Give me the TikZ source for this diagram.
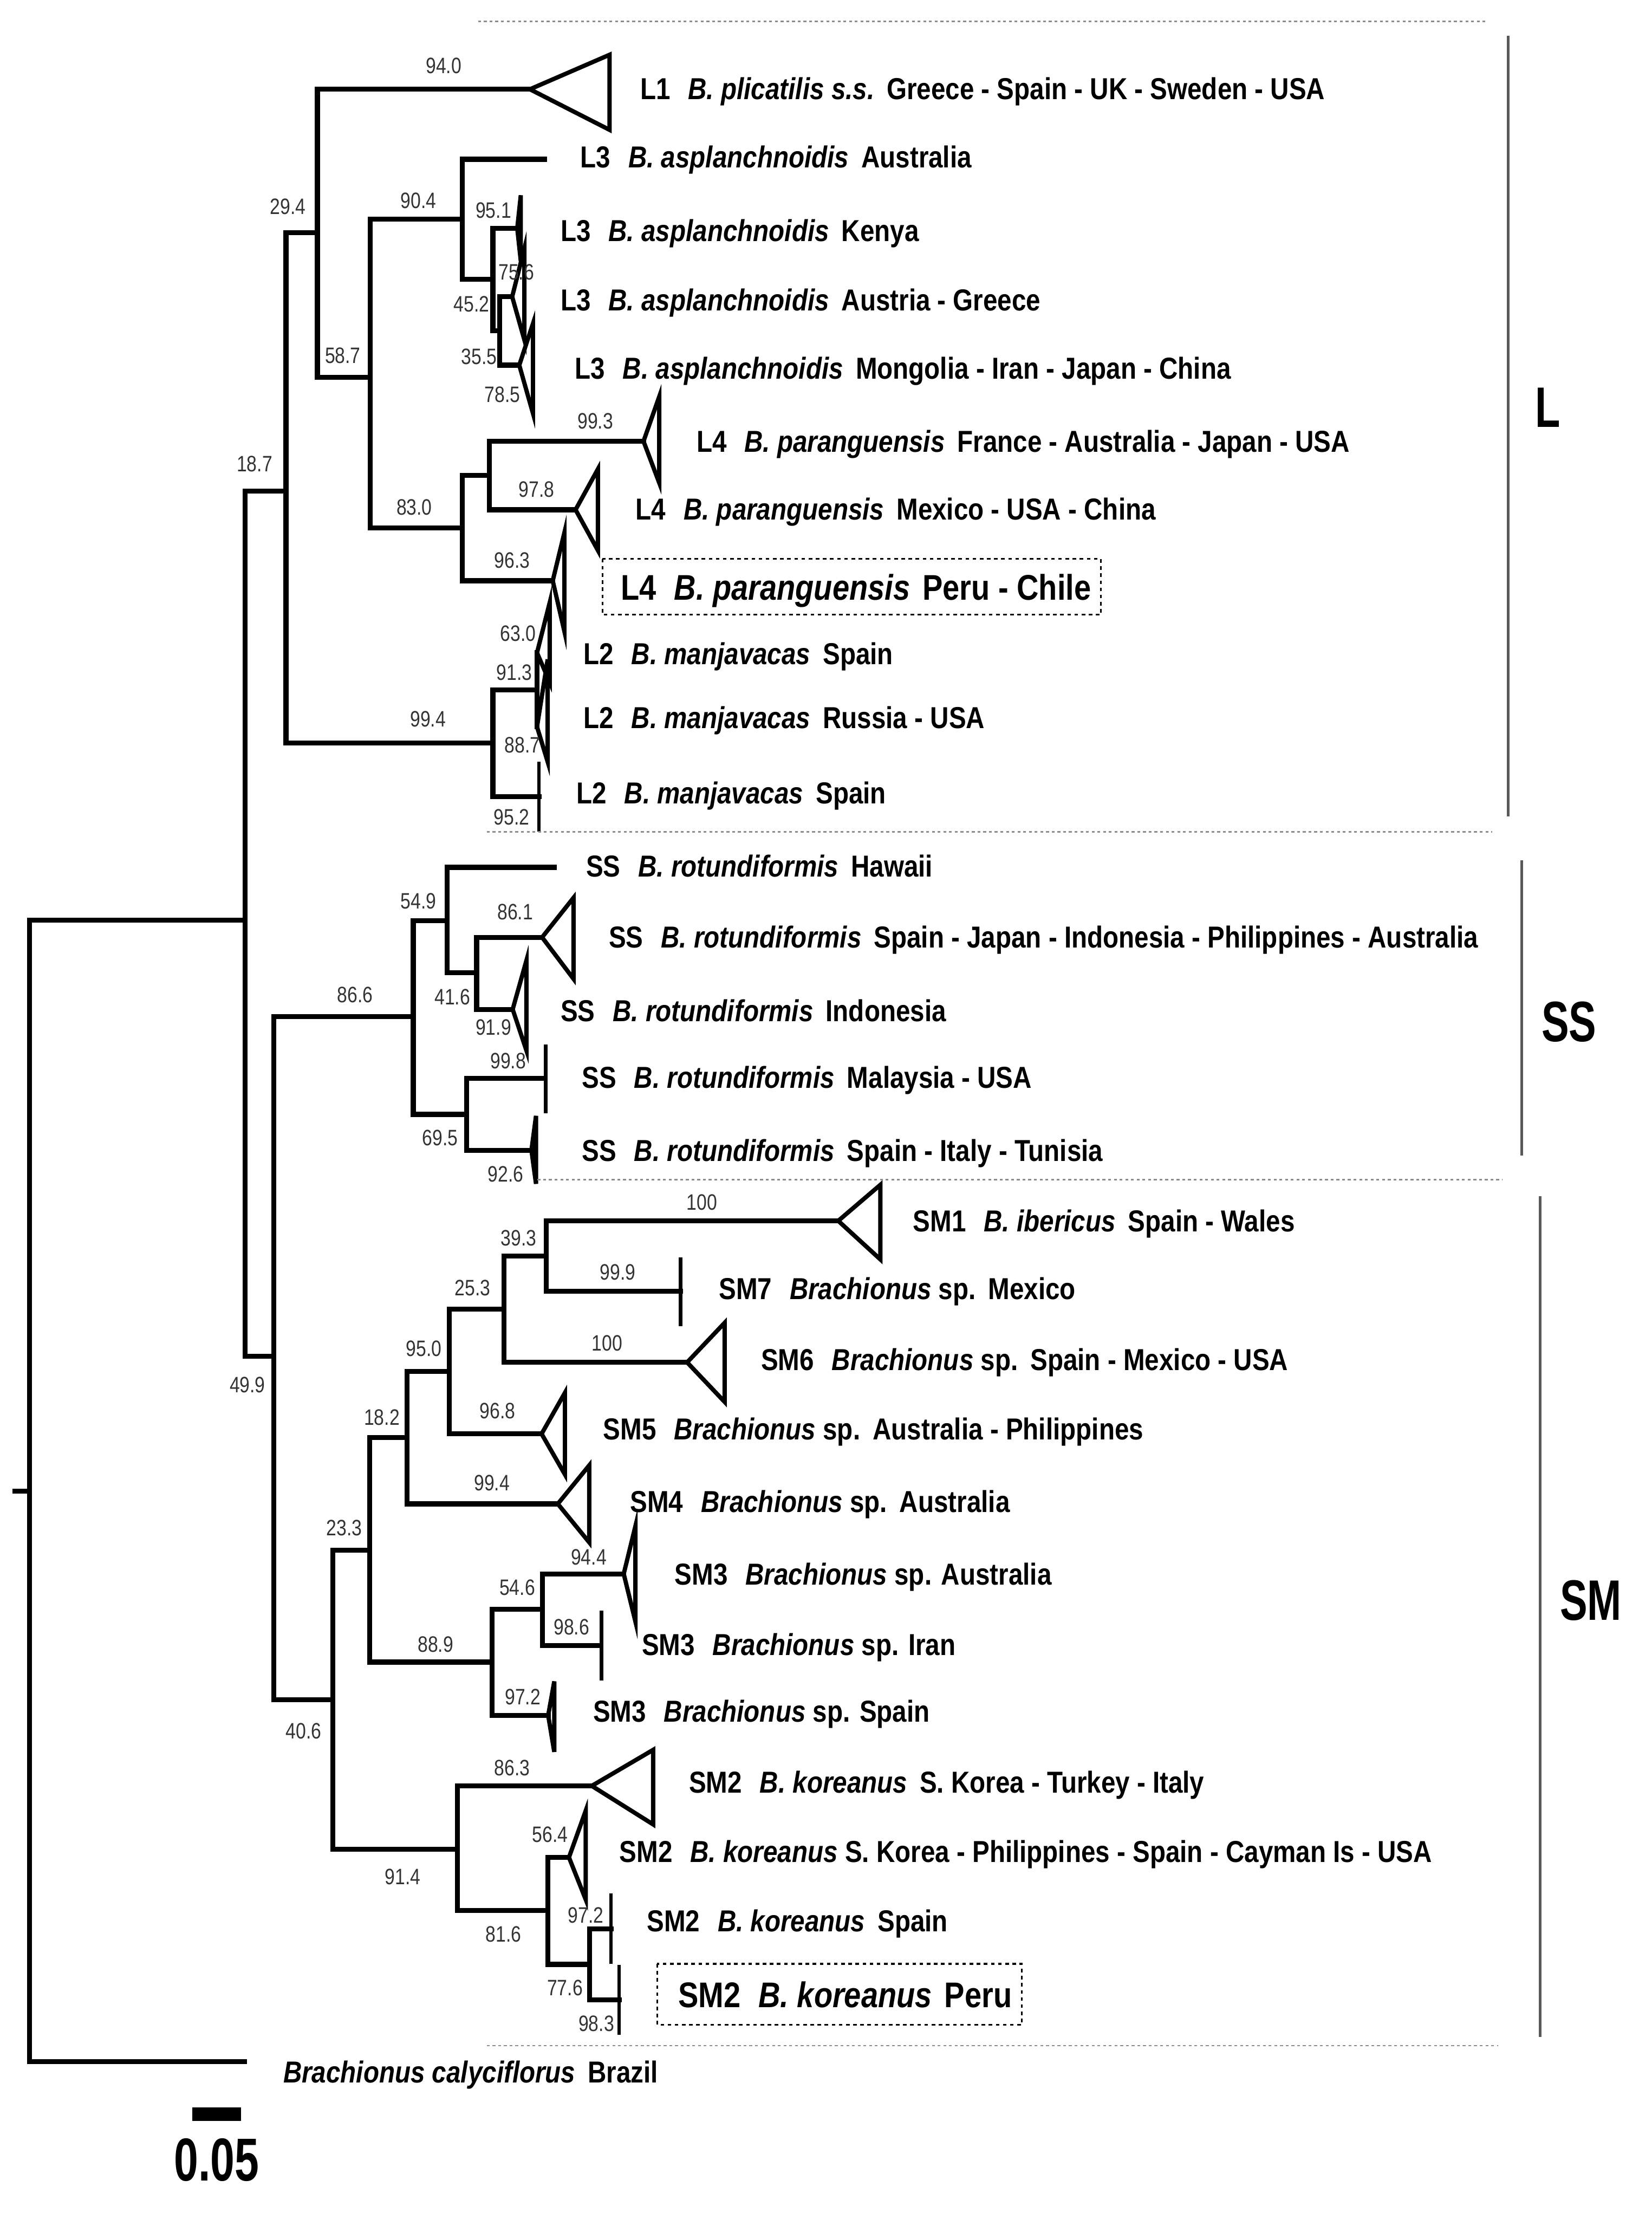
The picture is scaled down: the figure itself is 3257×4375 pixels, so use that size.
\documentclass[tikz,border=0pt]{standalone}
\usepackage{fontspec}
\setmainfont{Liberation Sans}[FakeStretch=0.85]
\newfontfamily\bsfont{Liberation Sans}[FakeStretch=0.82]
\newfontfamily\grpfont{Liberation Sans}[FakeStretch=0.72]
\newcommand\tga{\hspace{10pt}}
\newcommand\tgb{\hspace{7pt}}
\begin{document}
\begin{tikzpicture}[x=0.01cm,y=-0.01cm,
  br/.style={line width=2.8pt, line cap=rect, line join=miter},
  wedge/.style={line width=2.4pt, line join=miter},
  tipbar/.style={line width=1.9pt},
  bs/.style={font=\bsfont\fontsize{12.5}{13}\selectfont, text=black!80, inner sep=0pt},
  tax/.style={font=\fontsize{17}{18}\selectfont\bfseries, anchor=base west, inner sep=0pt},
  taxbig/.style={font=\fontsize{20}{22}\selectfont\bfseries, anchor=base west, inner sep=0pt},
  grp/.style={font=\grpfont\fontsize{32}{34}\selectfont\bfseries, inner sep=0pt},
  sepline/.style={black!45, line width=0.8pt, dash pattern=on 1.6pt off 1.6pt},
  grpbar/.style={black!65, line width=1.4pt},
  dotbox/.style={line width=1pt, dash pattern=on 2pt off 2pt}]
\useasboundingbox (0,0) rectangle (3257,4375);
% ---------------- coordinates ----------------
\coordinate (R) at (58,2940);
\coordinate (Rs) at (30,2940);
\coordinate (IN) at (483,1814);
\coordinate (OG) at (482,4065);
\coordinate (Lc) at (564,968);
\coordinate (SSM) at (540,2674);
\coordinate (A29) at (626,459);
\coordinate (M) at (972,1465);
\coordinate (tL1) at (1045,176);
\coordinate (A58) at (730,744);
\coordinate (A90) at (912,432);
\coordinate (A83) at (912,1041);
\coordinate (tAu) at (1074,314);
\coordinate (S1) at (972,551);
\coordinate (tKe) at (1020,450);
\coordinate (A45) at (985,652);
\coordinate (tAG) at (1010,585);
\coordinate (tMo) at (1024,720);
\coordinate (S2) at (965,937);
\coordinate (tP96) at (1090,1145);
\coordinate (tFr) at (1269,870);
\coordinate (tMx) at (1135,1005);
\coordinate (N91) at (1059,1360);
\coordinate (tSp2) at (1063,1571);
\coordinate (tSp1) at (1059,1287);
\coordinate (tRu) at (1059,1433);
\coordinate (Q86) at (815,2004);
\coordinate (Q54) at (882,1815);
\coordinate (Q69) at (920,2197);
\coordinate (tHa) at (1093,1710);
\coordinate (Q41) at (940,1918);
\coordinate (tSJ) at (1069,1848);
\coordinate (tIn) at (1011,1990);
\coordinate (tMa) at (1074,2126);
\coordinate (tSI) at (1048,2268);
\coordinate (Q40) at (656,3351);
\coordinate (Q23) at (729,3056);
\coordinate (Q91) at (902,3646);
\coordinate (Q18) at (803,2834);
\coordinate (Q88) at (970,3277);
\coordinate (Q95) at (886,2704);
\coordinate (tS4) at (1100,2965);
\coordinate (Q25) at (994,2581);
\coordinate (tS5) at (1068,2827);
\coordinate (Q39) at (1077,2476);
\coordinate (tS6) at (1355,2686);
\coordinate (tS1) at (1653,2407);
\coordinate (tS7) at (1342,2546);
\coordinate (Q54b) at (1070,3173);
\coordinate (tS3s) at (1081,3382);
\coordinate (tS3a) at (1230,3103);
\coordinate (tS3i) at (1184,3244);
\coordinate (tS2a) at (1167,3521);
\coordinate (Q81) at (1080,3767);
\coordinate (tS2b) at (1122,3662);
\coordinate (Q77) at (1163,3873);
\coordinate (tS2s) at (1205,3803);
\coordinate (tS2p) at (1221,3943);
% ---------------- branches ----------------
\draw[br] (Rs) -- (R);
\draw[br] (IN) -| (R) |- (OG);
\draw[br] (Lc) -| (IN) |- (SSM);
\draw[br] (A29) -| (Lc) |- (M);
\draw[br] (tL1) -| (A29) |- (A58);
\draw[br] (A90) -| (A58) |- (A83);
\draw[br] (tAu) -| (A90) |- (S1);
\draw[br] (tKe) -| (S1) |- (A45);
\draw[br] (tAG) -| (A45) |- (tMo);
\draw[br] (S2) -| (A83) |- (tP96);
\draw[br] (tFr) -| (S2) |- (tMx);
\draw[br] (N91) -| (M) |- (tSp2);
\draw[br] (tSp1) -| (N91) |- (tRu);
\draw[br] (Q86) -| (SSM) |- (Q40);
\draw[br] (Q54) -| (Q86) |- (Q69);
\draw[br] (tHa) -| (Q54) |- (Q41);
\draw[br] (tSJ) -| (Q41) |- (tIn);
\draw[br] (tMa) -| (Q69) |- (tSI);
\draw[br] (Q23) -| (Q40) |- (Q91);
\draw[br] (Q18) -| (Q23) |- (Q88);
\draw[br] (Q95) -| (Q18) |- (tS4);
\draw[br] (Q25) -| (Q95) |- (tS5);
\draw[br] (Q39) -| (Q25) |- (tS6);
\draw[br] (tS1) -| (Q39) |- (tS7);
\draw[br] (Q54b) -| (Q88) |- (tS3s);
\draw[br] (tS3a) -| (Q54b) |- (tS3i);
\draw[br] (tS2a) -| (Q91) |- (Q81);
\draw[br] (tS2b) -| (Q81) |- (Q77);
\draw[br] (tS2s) -| (Q77) |- (tS2p);
% ---------------- collapsed clades ----------------
\draw[wedge] (tL1) -- (1202,108) -- (1202,256) -- cycle;
\draw[wedge] (tKe) -- (1027,385) -- (1027,515) -- cycle;
\draw[wedge] (tAG) -- (1034,490) -- (1034,670) -- cycle;
\draw[wedge] (tMo) -- (1051,638) -- (1051,815) -- cycle;
\draw[wedge] (tFr) -- (1300,782) -- (1300,952) -- cycle;
\draw[wedge] (tMx) -- (1179,925) -- (1179,1085) -- cycle;
\draw[wedge] (tP96) -- (1113,1050) -- (1113,1245) -- cycle;
\draw[wedge] (tSp1) -- (1084,1188) -- (1084,1345) -- cycle;
\draw[wedge] (tRu) -- (1080,1300) -- (1080,1502) -- cycle;
\draw[tipbar] (1063,1502) -- (1063,1640);
\draw[wedge] (tSJ) -- (1131,1770) -- (1131,1930) -- cycle;
\draw[wedge] (tIn) -- (1038,1894) -- (1038,2071) -- cycle;
\draw[tipbar] (1076,2059) -- (1076,2195);
\draw[wedge] (tSI) -- (1057,2200) -- (1057,2334) -- cycle;
\draw[wedge] (tS1) -- (1736,2336) -- (1736,2483) -- cycle;
\draw[tipbar] (1342,2479) -- (1342,2615);
\draw[wedge] (tS6) -- (1429,2608) -- (1429,2764) -- cycle;
\draw[wedge] (tS5) -- (1114,2746) -- (1114,2907) -- cycle;
\draw[wedge] (tS4) -- (1162,2889) -- (1162,3041) -- cycle;
\draw[wedge] (tS3a) -- (1253,3009) -- (1253,3197) -- cycle;
\draw[tipbar] (1186,3175) -- (1186,3313);
\draw[wedge] (tS3s) -- (1093,3315) -- (1093,3454) -- cycle;
\draw[wedge] (tS2a) -- (1288,3450) -- (1288,3597) -- cycle;
\draw[wedge] (tS2b) -- (1155,3570) -- (1155,3745) -- cycle;
\draw[tipbar] (1205,3733) -- (1205,3872);
\draw[tipbar] (1221,3874) -- (1221,4012);
% ---------------- bootstrap values ----------------
\node[bs] (b1) at (875,130) {94.0};
\node[bs] (b2) at (568,407) {29.4};
\node[bs] (b3) at (825,396) {90.4};
\node[bs] (b4) at (973,415) {95.1};
\node[bs] (b5) at (1018,537) {75.6};
\node[bs] (b6) at (930,600) {45.2};
\node[bs] (b7) at (945,703) {35.5};
\node[bs] (b8) at (991,778) {78.5};
\node[bs] (b9) at (676,701) {58.7};
\node[bs] (b10) at (502,915) {18.7};
\node[bs] (b11) at (817,1000) {83.0};
\node[bs] (b12) at (1174,830) {99.3};
\node[bs] (b13) at (1058,965) {97.8};
\node[bs] (b14) at (1010,1105) {96.3};
\node[bs] (b15) at (1022,1249) {63.0};
\node[bs] (b16) at (1014,1326) {91.3};
\node[bs] (b17) at (844,1418) {99.4};
\node[bs] (b18) at (1030,1469) {88.7};
\node[bs] (b19) at (1009,1611) {95.2};
\node[bs] (b20) at (825,1777) {54.9};
\node[bs] (b21) at (1016,1798) {86.1};
\node[bs] (b22) at (892,1966) {41.6};
\node[bs] (b23) at (973,2025) {91.9};
\node[bs] (b24) at (700,1961) {86.6};
\node[bs] (b25) at (1002,2092) {99.8};
\node[bs] (b26) at (868,2243) {69.5};
\node[bs] (b27) at (997,2315) {92.6};
\node[bs] (b28) at (1384,2371) {100};
\node[bs] (b29) at (1023,2441) {39.3};
\node[bs] (b30) at (1218,2508) {99.9};
\node[bs] (b31) at (932,2539) {25.3};
\node[bs] (b32) at (1197,2648) {100};
\node[bs] (b33) at (836,2659) {95.0};
\node[bs] (b34) at (981,2782) {96.8};
\node[bs] (b35) at (753,2795) {18.2};
\node[bs] (b36) at (970,2924) {99.4};
\node[bs] (b37) at (679,3012) {23.3};
\node[bs] (b38) at (1161,3070) {94.4};
\node[bs] (b39) at (1020,3130) {54.6};
\node[bs] (b40) at (1127,3208) {98.6};
\node[bs] (b41) at (859,3242) {88.9};
\node[bs] (b42) at (1031,3346) {97.2};
\node[bs] (b43) at (599,3413) {40.6};
\node[bs] (b44) at (1010,3486) {86.3};
\node[bs] (b45) at (1085,3617) {56.4};
\node[bs] (b46) at (794,3700) {91.4};
\node[bs] (b47) at (1155,3776) {97.2};
\node[bs] (b48) at (993,3814) {81.6};
\node[bs] (b49) at (1114,3919) {77.6};
\node[bs] (b50) at (1176,3990) {98.3};
\node[bs] (b51) at (488,2730) {49.9};
% ---------------- taxon labels ----------------
\node[tax] (t1) at (1262,196) {L1\tga{\itshape B. plicatilis s.s.}\tgb Greece - Spain - UK - Sweden - USA};
\node[tax] (t2) at (1144,331) {L3\tga{\itshape B. asplanchnoidis}\tgb Australia};
\node[tax] (t3) at (1105,476) {L3\tga{\itshape B. asplanchnoidis}\tgb Kenya};
\node[tax] (t4) at (1105,613) {L3\tga{\itshape B. asplanchnoidis}\tgb Austria - Greece};
\node[tax] (t5) at (1133,747) {L3\tga{\itshape B. asplanchnoidis}\tgb Mongolia - Iran - Japan - China};
\node[tax] (t6) at (1373,891) {L4\tga{\itshape B. paranguensis}\tgb France - Australia - Japan - USA};
\node[tax] (t7) at (1253,1025) {L4\tga{\itshape B. paranguensis}\tgb Mexico - USA - China};
\node[taxbig] (t8) at (1224,1183) {L4\tga{\itshape B. paranguensis}\tgb Peru - Chile};
\node[tax] (t9) at (1150,1310) {L2\tga{\itshape B. manjavacas}\tgb Spain};
\node[tax] (t10) at (1150,1436) {L2\tga{\itshape B. manjavacas}\tgb Russia - USA};
\node[tax] (t11) at (1136,1584) {L2\tga{\itshape B. manjavacas}\tgb Spain};
\node[tax] (t12) at (1155,1729) {SS\tga{\itshape B. rotundiformis}\tgb Hawaii};
\node[tax] (t13) at (1200,1869) {SS\tga{\itshape B. rotundiformis}\tgb Spain - Japan - Indonesia - Philippines - Australia};
\node[tax] (t14) at (1105,2014) {SS\tga{\itshape B. rotundiformis}\tgb Indonesia};
\node[tax] (t15) at (1147,2145) {SS\tga{\itshape B. rotundiformis}\tgb Malaysia - USA};
\node[tax] (t16) at (1147,2290) {SS\tga{\itshape B. rotundiformis}\tgb Spain - Italy - Tunisia};
\node[tax] (t17) at (1800,2428) {SM1\tga{\itshape B. ibericus}\tgb Spain - Wales};
\node[tax] (t18) at (1417,2562) {SM7\tga{\itshape Brachionus} sp.\tgb Mexico};
\node[tax] (t19) at (1500,2702) {SM6\tga{\itshape Brachionus} sp.\tgb Spain - Mexico - USA};
\node[tax] (t20) at (1189,2838) {SM5\tga{\itshape Brachionus} sp.\tgb Australia - Philippines};
\node[tax] (t21) at (1242,2982) {SM4\tga{\itshape Brachionus} sp.\tgb Australia};
\node[tax] (t22) at (1330,3125) {SM3\tga{\itshape Brachionus} sp. Australia};
\node[tax] (t23) at (1265,3264) {SM3\tga{\itshape Brachionus} sp. Iran};
\node[tax] (t24) at (1169,3395) {SM3\tga{\itshape Brachionus} sp. Spain};
\node[tax] (t25) at (1358,3535) {SM2\tga{\itshape B. koreanus}\tgb S. Korea - Turkey - Italy};
\node[tax] (t26) at (1221,3672) {SM2\tga{\itshape B. koreanus} S. Korea - Philippines - Spain - Cayman Is - USA};
\node[tax] (t27) at (1275,3808) {SM2\tga{\itshape B. koreanus}\tgb Spain};
\node[taxbig] (t28) at (1337,3958) {SM2\tga{\itshape B. koreanus}\tgb Peru};
\node[tax] (t29) at (558,4106) {{\itshape Brachionus calyciflorus}\tgb Brazil};
% ---------------- highlight boxes ----------------
\draw[dotbox] (1188,1102) rectangle (2171,1212);
\draw[dotbox] (1296,3872) rectangle (2015,3992);
% ---------------- separators & group bars ----------------
\draw[sepline] (943,42) -- (2934,42);
\draw[sepline] (960,1640) -- (2943,1640);
\draw[sepline] (1060,2326) -- (2963,2326);
\draw[sepline] (960,4033) -- (2954,4033);
\draw[grpbar] (2974,70) -- (2974,1610);
\draw[grpbar] (3001,1696) -- (3001,2278);
\draw[grpbar] (3037,2358) -- (3037,4016);
\node[grp] (gL) at (3052,803) {L};
\node[grp] (gSS) at (3094,2015) {SS};
\node[grp] (gSM) at (3137,3155) {SM};
% ---------------- scale bar ----------------
\fill (379,4155) rectangle (475,4182);
\node[font=\grpfont\fontsize{34}{36}\selectfont\bfseries, inner sep=0pt] (scl) at (427,4258) {0.05};
\end{tikzpicture}
\end{document}
